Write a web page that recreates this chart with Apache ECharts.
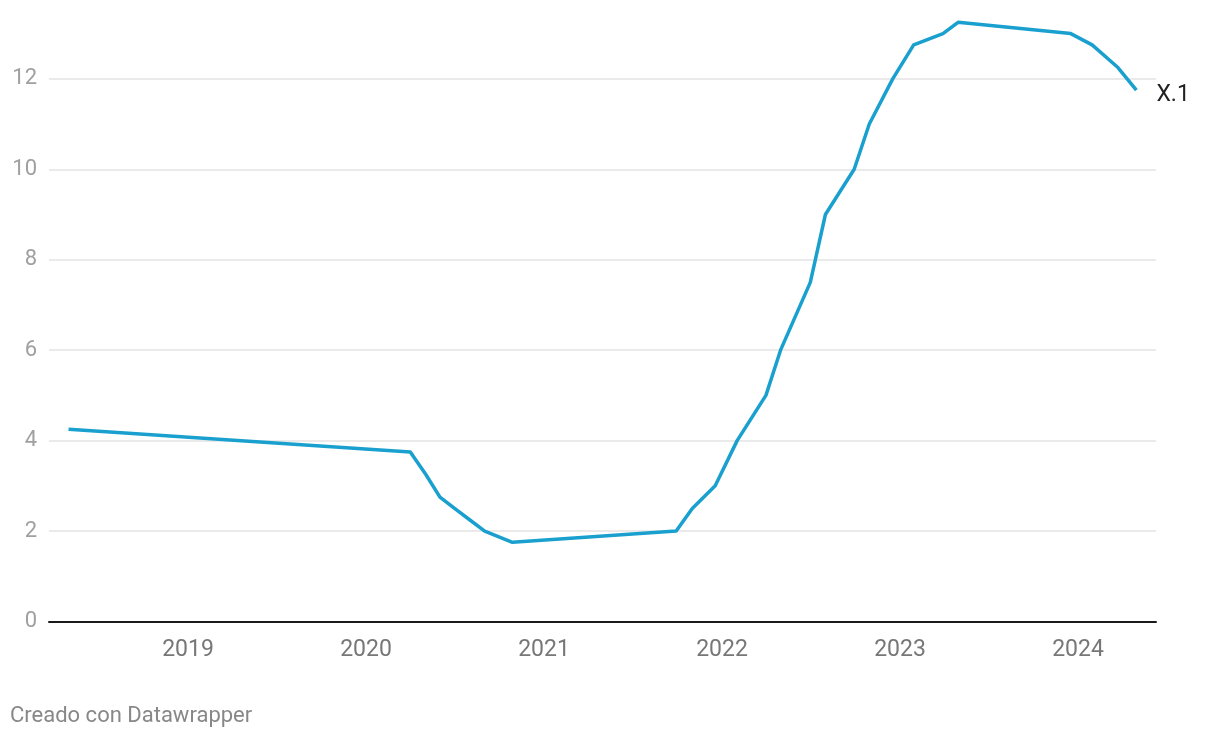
<!DOCTYPE html>
<html>
<head>
<meta charset="utf-8">
<script src="https://cdn.jsdelivr.net/npm/echarts@6/dist/echarts.min.js"></script>
<style>
html,body{margin:0;padding:0;background:#fff;}
#chart{width:1220px;height:738px;}
</style>
</head>
<body>
<div id="chart"></div>
<script>
// Data
var dates = ['2018-05-01','2020-04-01','2020-05-03','2020-06-01','2020-07-01','2020-08-01','2020-09-01','2020-10-28',
  '2021-09-29','2021-11-01','2021-12-18','2022-02-01','2022-04-01','2022-05-01','2022-07-01','2022-08-01',
  '2022-09-29','2022-10-30','2022-12-17','2023-01-29','2023-03-30','2023-04-30','2023-12-17','2024-01-30',
  '2024-03-23','2024-04-30'];
var rates = [4.25,3.75,3.25,2.75,2.5,2.25,2.0,1.75,
  2.0,2.5,3.0,4.0,5.0,6.0,7.5,9.0,
  10.0,11.0,12.0,12.75,13.0,13.25,13.0,12.75,
  12.25,11.75];
var seriesName = 'X.1';
var xTickYears = [2019,2020,2021,2022,2023,2024];
var yTicks = [0,2,4,6,8,10,12];
var footerText = 'Creado con Datawrapper';

function toYearFraction(s){
  var p = s.split('-').map(Number);
  var t = Date.UTC(p[0], p[1]-1, p[2]);
  var a = Date.UTC(p[0],0,1), b = Date.UTC(p[0]+1,0,1);
  return p[0] + (t-a)/(b-a);
}
var seriesData = dates.map(function(d,i){ return [toYearFraction(d), rates[i]]; });

var chart = echarts.init(document.getElementById('chart'), null, {renderer:'canvas'});
chart.setOption({
  animation:false,
  backgroundColor:'#ffffff',
  textStyle:{fontFamily:'Roboto'},
  grid:{left:49, right:64, top:11, bottom:116.5, containLabel:false},
  xAxis:{
    type:'value', min:2018.219, max:2024.438,
    axisLine:{show:true, onZero:true, lineStyle:{color:'#1a1a1a', width:2}},
    axisTick:{show:false},
    splitLine:{show:false},
    axisLabel:{
      customValues: xTickYears,
      formatter:function(v){return String(v);},
      color:'#777777', fontSize:23, fontFamily:'Roboto', margin:17
    }
  },
  yAxis:{
    type:'value', min:0, max:13.5, interval:2,
    axisLine:{show:false},
    axisTick:{show:false},
    splitLine:{show:true, showMaxLine:false, lineStyle:{color:'#e3e3e3', width:1.5}},
    axisLabel:{
      customValues: yTicks,
      color:'#a0a0a0', fontSize:22, fontFamily:'Roboto', margin:12
    }
  },
  series:[{
    name: seriesName,
    type:'line',
    data: seriesData,
    symbol:'none',
    smooth:false,
    lineStyle:{color:'#1aa0cf', width:3.5, cap:'butt', join:'round'},
    endLabel:{
      show:true,
      formatter: seriesName,
      color:'#222222', fontSize:23, fontFamily:'Roboto',
      distance:20, offset:[0,5]
    }
  }],
  graphic:[{
    type:'text', left:10, top:705,
    style:{text:footerText, fill:'#888888', font:'22px Roboto'}
  }]
});
</script>
</body>
</html>
